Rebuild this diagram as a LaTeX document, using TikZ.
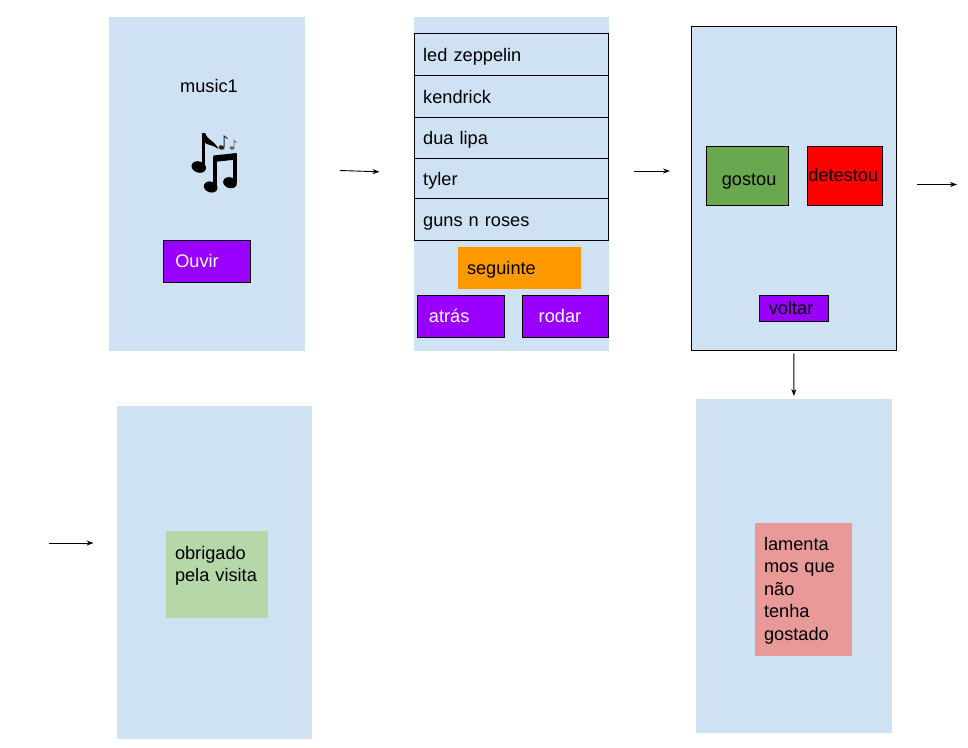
\documentclass[tikz,border=0pt]{standalone}
\usepackage{fontspec}
\setmainfont{Liberation Sans}
\usetikzlibrary{arrows.meta}
\definecolor{panelblue}{RGB}{207, 226, 243}
\definecolor{violet}{RGB}{153, 0, 255}
\definecolor{amber}{RGB}{255, 153, 0}
\definecolor{leaf}{RGB}{106, 168, 79}
\definecolor{palegreen}{RGB}{182, 215, 168}
\definecolor{salmon}{RGB}{234, 153, 153}
% width, height, left padding, baseline from top
\tikzset{
    cell/.style n args={4}{rectangle, anchor=north west, inner sep=0pt, outer sep=0pt, align=left,
        text width=#1pt, text height=#4pt, text depth=#2pt-#4pt,
        execute at begin node={\leftskip=#3pt\relax}},
    panel/.style={fill=panelblue},
    rowbox/.style={draw=black, line width=1pt},
    flow/.style={-{Stealth[length=7pt,width=5pt]}, line width=0.9pt},
}
\begin{document}
\begin{tikzpicture}[x=1pt, y=-1pt, font=\fontsize{18.2}{22.5}\selectfont]
            \useasboundingbox (0,0) rectangle (968,747);
            % screens
            \node[cell={196}{334}{0}{0},     panel]          (inicio)    at (109.0, 17.0) {};
            \node[cell={195}{334}{0}{0},     panel]          (lista)     at (414.0, 17.0) {};
            \node[cell={205.4}{324.4}{0}{0}, panel, rowbox]  (avaliar)   at (691.0, 26.0) {};
            \node[cell={195}{333}{0}{0},     panel]          (fim)       at (117.0,406.0) {};
            \node[cell={196}{334}{0}{0},     panel]          (pena)      at (696.0,399.0) {};
            % first screen
            \node[anchor=base west, inner sep=0pt]         (titulo)    at (180.0, 92.7) {music1};
            \node[cell={87.4}{42}{12}{27}, fill=violet, rowbox, text=white] (ouvir) at (163.3,240.3) {Ouvir};
            \fill[black, rotate around={-18:(198.8,167.0)}] (198.8,167.0) ellipse (7.4 and 5.6);
            \fill[black] (201.6,133.0) rectangle (205.0,167.0);
            \fill[black] (205.0,133.0) .. controls (207.0,140.0) and (214.0,140.0) .. (218.5,149.0)
                         .. controls (213.0,145.0) and (208.0,145.0) .. (205.0,143.0) -- cycle;
            \fill[black, rotate around={-18:(210.7,187.0)}] (210.7,187.0) ellipse (7.0 and 5.4);
            \fill[black, rotate around={-18:(230.0,182.7)}] (230.0,182.7) ellipse (7.0 and 5.4);
            \fill[black] (213.4,157.0) rectangle (216.8,186.0);
            \fill[black] (233.2,154.0) rectangle (236.6,182.0);
            \fill[black] (213.4,155.5) -- (236.6,153.0) -- (236.6,159.5) -- (213.4,162.0) -- cycle;
            \fill[black!85, rotate around={-18:(221.5,147.5)}] (221.5,147.5) ellipse (3.0 and 2.2);
            \draw[black!85, line width=1pt] (224.0,147.0) -- (224.0,136.0) .. controls (225.5,138.0) .. (227.5,138.5);
            \fill[black!60, rotate around={-18:(232.0,148.0)}] (232.0,148.0) ellipse (2.4 and 1.8);
            \draw[black!60, line width=0.8pt] (234.0,147.5) -- (234.0,140.5) .. controls (235.0,142.0) .. (236.5,142.5);
            % list screen
            \node[cell={194.4}{42}{9.2}{28},   rowbox]              (zeppelin) at (414.0, 33.3) {led zeppelin};
            \node[cell={194.4}{42}{9.2}{28},   rowbox]              (kendrick) at (414.0, 75.3) {kendrick};
            \node[cell={194.4}{41}{9.2}{26.7}, rowbox]              (dualipa)  at (414.0,117.3) {dua lipa};
            \node[cell={194.4}{40}{9.2}{27.4}, rowbox]              (tyler)    at (414.0,158.3) {tyler};
            \node[cell={194.4}{42}{9.2}{28.4}, rowbox]              (guns)     at (414.0,198.3) {guns n roses};
            \node[cell={123.3}{41.7}{9}{27},   fill=amber]          (seguinte) at (458.0,247.0) {seguinte};
            \node[cell={87}{42.4}{11.5}{27},   fill=violet, rowbox, text=white] (atras) at (417.4,295.3) {atrás};
            \node[cell={86.2}{42.4}{16.5}{27}, fill=violet, rowbox, text=white] (rodar) at (522.2,295.3) {rodar};
            % rating screen
            \node[cell={82.4}{59}{15.5}{38.7}, fill=leaf, rowbox]   (gostou)   at (706.3,146.3) {gostou};
            \node[cell={75.4}{59}{1}{35.4},    fill=red,  rowbox]   (detestou) at (807.3,146.3) {detestou};
            \node[cell={69.4}{26.4}{9.5}{18.7},fill=violet, rowbox] (voltar)   at (759.3,295.3) {voltar};
            % messages
            \node[cell={102}{87}{9}{28},       fill=palegreen]      (obrigado) at (166.0,531.0) {obrigado\\pela visita};
            \node[cell={97}{133}{9}{27},       fill=salmon]         (lamenta)  at (755.0,523.0) {lamenta\\mos que\\não\\tenha\\gostado};
            % arrows
            \coordinate (a1) at (340.0,170.5);  \coordinate (b1) at (379.5,171.8);
            \coordinate (a2) at (634.0,171.0);  \coordinate (b2) at (670.0,171.0);
            \coordinate (a3) at (917.0,184.5);  \coordinate (b3) at (957.0,184.5);
            \coordinate (a4) at ( 49.0,543.0);  \coordinate (b4) at ( 93.5,543.0);
            \draw[flow] (a1) -- (b1);
            \draw[flow] (a2) -- (b2);
            \draw[flow] (a3) -- (b3);
            \draw[flow] (a4) -- (b4);
            \draw[flow, shorten <=3pt, shorten >=3pt] (avaliar) -- (pena);
\end{tikzpicture}
\end{document}
